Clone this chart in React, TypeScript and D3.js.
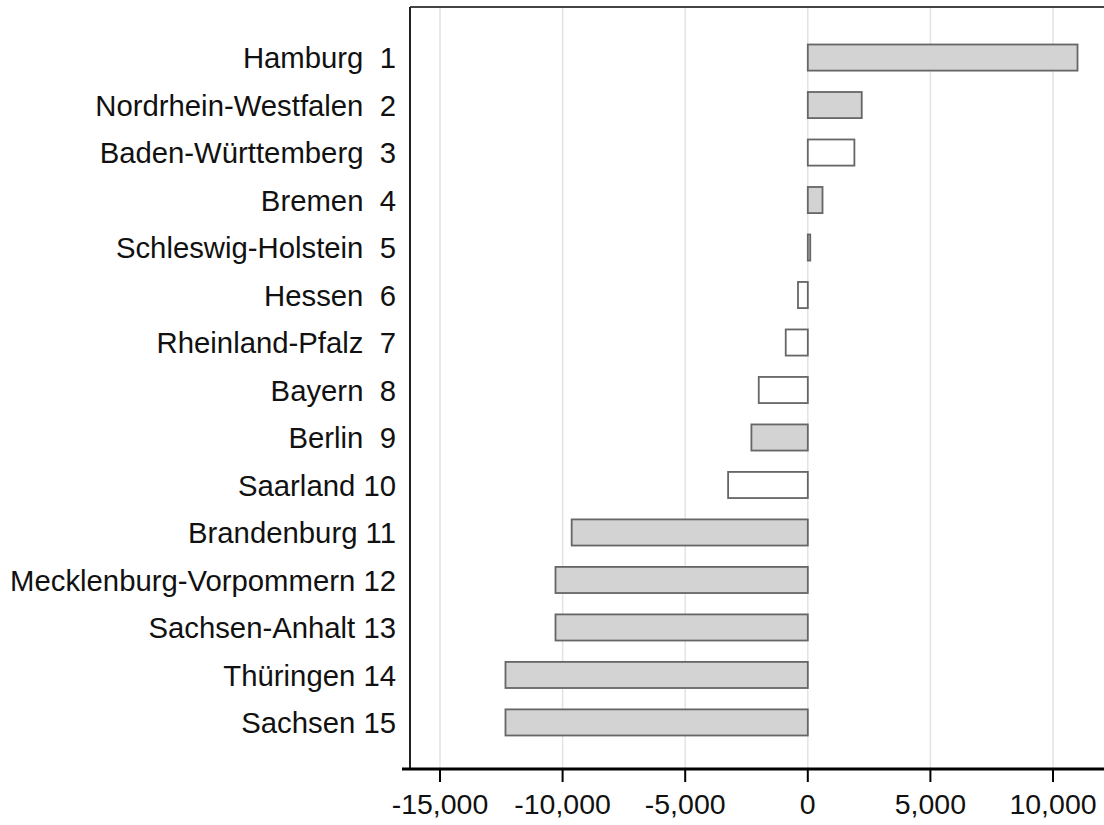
import React from "react";
import * as d3 from "d3";

const states = [
  "Hamburg", "Nordrhein-Westfalen", "Baden-Württemberg", "Bremen", "Schleswig-Holstein",
  "Hessen", "Rheinland-Pfalz", "Bayern", "Berlin", "Saarland", "Brandenburg",
  "Mecklenburg-Vorpommern", "Sachsen-Anhalt", "Thüringen", "Sachsen",
];
const values = [11000, 2200, 1900, 600, 100, -400, -900, -2000, -2300, -3250, -9630, -10290, -10290, -12330, -12330];
const filled = [true, true, false, true, true, false, false, false, true, false, true, true, true, true, true];
const ticks = [-15000, -10000, -5000, 0, 5000, 10000];

export default function App() {
  const W = 1104, H = 825;
  const left = 410, top = 7, axisY = 769;
  const x = d3.scaleLinear().domain([-15000, 10000]).range([440, 1053]);
  const y = d3.scaleBand<number>().domain(d3.range(states.length)).range([35, 745]).paddingInner(0.45).paddingOuter(0.2);
  const fmt = (v: number) => d3.format(",")(v).replace("\u2212", "-");
  const font = "'Liberation Sans', Arial, sans-serif";
  return (
    <svg width={W} height={H} style={{ position: "absolute", left: 0, top: 0, background: "#fff" }}>
      {ticks.map((t) => (
        <line key={"g" + t} x1={x(t)} x2={x(t)} y1={top} y2={axisY} stroke="#e3e3e3" strokeWidth={1.5} />
      ))}
      {values.map((v, i) => (
        <rect
          key={i}
          x={Math.min(x(0), x(v))}
          y={y(i)!}
          width={Math.max(Math.abs(x(v) - x(0)), 1)}
          height={y.bandwidth()}
          fill={filled[i] ? "#d3d3d3" : "#ffffff"}
          stroke="#666"
          strokeWidth={1.8}
        />
      ))}
      {states.map((s, i) => (
        <text
          key={s}
          x={396}
          y={y(i)! + y.bandwidth() / 2}
          dy="0.37em"
          textAnchor="end"
          fontFamily={font}
          fontSize={29.3}
          fill="#111"
          style={{ whiteSpace: "pre" }}
        >
          {s + " " + String(i + 1).padStart(2, " ")}
        </text>
      ))}
      <line x1={left} x2={W} y1={top} y2={top} stroke="#444" strokeWidth={2} />
      <line x1={left} x2={left} y1={top} y2={axisY} stroke="#222" strokeWidth={2} />
      <line x1={402} x2={W} y1={axisY} y2={axisY} stroke="#000" strokeWidth={3} />
      {ticks.map((t) => (
        <g key={"t" + t}>
          <line x1={x(t)} x2={x(t)} y1={axisY} y2={782} stroke="#000" strokeWidth={2} />
          <text x={x(t)} y={814} textAnchor="middle" fontFamily={font} fontSize={28.5} fill="#111">
            {fmt(t)}
          </text>
        </g>
      ))}
    </svg>
  );
}
